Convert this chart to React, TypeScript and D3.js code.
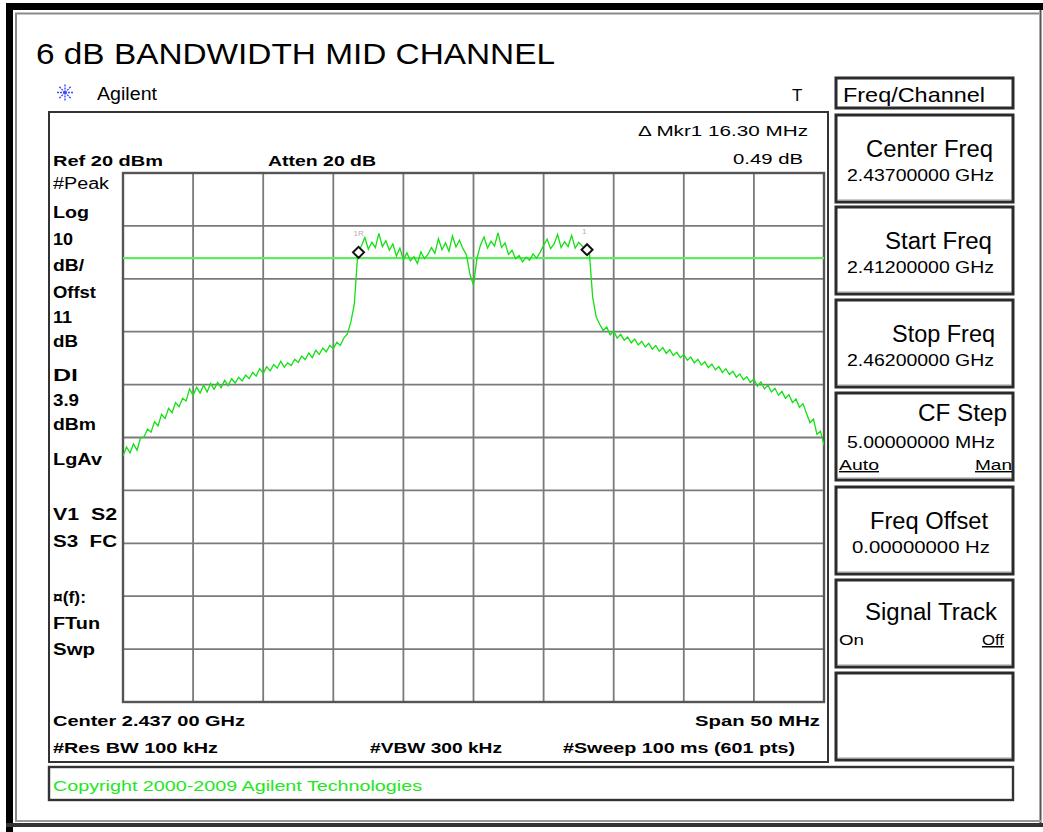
import * as d3 from 'd3';

// sweep: 2.412 GHz .. 2.462 GHz, values every 0.25 MHz
const START_MHZ = 2412;
const STOP_MHZ = 2462;
const STEP_MHZ = 0.25;

const freqDivisions = [2412, 2417, 2422, 2427, 2432, 2437, 2442, 2447, 2452, 2457, 2462];
const levelDivisions = [20, 10, 0, -10, -20, -30, -40, -50, -60, -70, -80];

const displayLineDbm = 3.9;

const traceDbm = [
  -33.5, -31.8, -32.9, -31.2, -32.4, -30.1, -29.9, -28.4, -29.0, -27.0,
  -27.8, -25.6, -26.4, -24.5, -25.3, -23.4, -24.2, -22.6, -23.1, -20.8,
  -22.0, -20.5, -21.6, -20.1, -21.4, -19.8, -20.9, -19.6, -20.6, -19.2,
  -20.2, -18.9, -19.7, -18.6, -19.3, -18.2, -18.9, -17.7, -18.4, -17.0,
  -17.9, -16.6, -17.4, -16.2, -16.9, -15.6, -16.7, -15.9, -16.4, -15.2,
  -15.8, -14.6, -15.3, -14.0, -14.9, -13.5, -14.3, -13.1, -13.8, -12.6,
  -13.2, -12.0, -12.6, -11.2, -10.4, -8.2, -4.8,
  5.0,
  6.2, 7.8, 5.6, 6.9, 5.9, 8.6, 6.1, 7.2, 5.4, 6.6,
  4.3, 5.8, 3.6, 4.9, 3.4, 4.2, 2.9, 5.1, 3.8, 4.6,
  5.9, 4.8, 7.6, 5.5, 6.8, 5.2, 8.1, 6.0, 7.3, 5.7,
  4.5, 0.8, -1.2, 3.9,
  6.4, 7.9, 5.8, 7.1, 6.2, 8.7, 5.9, 6.8,
  4.6, 5.4, 3.8, 4.4, 3.2, 4.1, 3.5, 4.7, 3.9, 5.0,
  6.3, 7.5, 5.7, 6.6, 8.4, 5.9, 7.0, 6.1, 8.2, 5.8, 6.9, 6.2, 5.6,
  5.5,
  -3.5, -7.2,
  -8.6, -9.8, -9.1, -10.6, -9.9, -11.2, -10.5, -11.6, -11.0, -12.1,
  -11.4, -12.5, -11.8, -12.9, -12.2, -13.3, -12.6, -13.7, -13.0, -14.1,
  -13.4, -14.5, -13.9, -14.9, -14.3, -15.4, -14.8, -15.9, -15.2, -16.3,
  -15.7, -16.8, -16.1, -17.2, -16.6, -17.7, -17.0, -18.1, -17.5, -18.6,
  -18.0, -19.1, -18.5, -19.6, -18.9, -20.3, -19.5, -20.8, -20.1, -21.4,
  -20.7, -22.0, -21.3, -22.6, -21.9, -23.4, -22.7, -24.3, -23.6, -25.4,
  -27.2, -26.5, -29.4, -28.8, -31.5,
];

const markerMhz = [2428.8, 2445.1];
const markerDbm = [5.0, 5.5];
const markerTags = ['1R', '1'];

const leftLabels = ['#Peak', 'Log', '10', 'dB/', 'Offst', '11', 'dB', 'Dl', '3.9', 'dBm', 'LgAv', 'V1  S2', 'S3  FC', '¤(f):', 'FTun', 'Swp'];
const leftBaselines = [189, 218, 245, 271, 298, 323, 347, 381, 406, 430, 465, 520, 547, 603, 629, 655];
const leftWidths = [56, 36, 20, 31, 43, 19, 25, 25, 26, 43, 49, 64, 64, 33, 47, 42];

const softKeys = [
  { title: 'Center Freq', value: '2.43700000 GHz' },
  { title: 'Start Freq', value: '2.41200000 GHz' },
  { title: 'Stop Freq', value: '2.46200000 GHz' },
  { title: 'CF Step', value: '5.00000000 MHz' },
  { title: 'Freq Offset', value: '0.00000000  Hz' },
  { title: 'Signal Track', value: '' },
  { title: '', value: '' },
];
const softKeyTops = [115, 207, 300, 393, 487, 580, 673];
const softKeyTitleRight = [993, 992, 995, 1007, 988, 997, 0];
const softKeyTitleWidth = [127, 107, 103, 89, 118, 132, 0];

const FONT = 'Liberation Sans, Arial, Helvetica, sans-serif';

function SoftKey({ top, title, value, index }: { top: number; title: string; value: string; index: number }) {
  const h = 87;
  const fit = { lengthAdjust: 'spacingAndGlyphs' as const };
  return (
    <g>
      <rect x={836} y={top} width={177} height={h} fill="#fff" stroke="#2b2b2b" strokeWidth={3} />
      <line x1={838} y1={top + h - 2} x2={1011} y2={top + h - 2} stroke="#999" strokeWidth={1} />
      {index === 3 && (
        <>
          <text x={softKeyTitleRight[index]} y={top + 28} textAnchor="end" fontSize={23} textLength={softKeyTitleWidth[index]} {...fit}>{title}</text>
          <text x={847} y={top + 55} fontSize={17} textLength={148} {...fit}>{value}</text>
          <text x={839} y={top + 77} fontSize={14} textLength={40} {...fit} textDecoration="underline">Auto</text>
          <text x={1012} y={top + 77} fontSize={14} textAnchor="end" textLength={37} {...fit} textDecoration="underline">Man</text>
        </>
      )}
      {index === 5 && (
        <>
          <text x={softKeyTitleRight[index]} y={top + 40} textAnchor="end" fontSize={23} textLength={softKeyTitleWidth[index]} {...fit}>{title}</text>
          <text x={839} y={top + 65} fontSize={15} textLength={25} {...fit}>On</text>
          <text x={1004} y={top + 65} textAnchor="end" fontSize={15} textLength={22} {...fit} textDecoration="underline">Off</text>
        </>
      )}
      {index !== 3 && index !== 5 && title && (
        <>
          <text x={softKeyTitleRight[index]} y={top + 42} textAnchor="end" fontSize={23} textLength={softKeyTitleWidth[index]} {...fit}>{title}</text>
          <text x={index === 4 ? 852 : 847} y={top + 66} fontSize={17} textLength={index === 4 ? 138 : 147} {...fit}>{value}</text>
        </>
      )}
    </g>
  );
}

export default function App() {
  const x = d3.scaleLinear().domain([START_MHZ, STOP_MHZ]).range([123, 824]);
  const y = d3.scaleLinear().domain([levelDivisions[levelDivisions.length - 1], levelDivisions[0]]).range([702, 173]);

  const line = d3.line<number>()
    .x((_, i) => x(START_MHZ + i * STEP_MHZ))
    .y(d => y(d));

  const [x0, x1] = x.range();
  const [y0, y1] = [y(levelDivisions[0]), y(levelDivisions[levelDivisions.length - 1])];

  const spark = d3.range(8).map(k => (k * Math.PI) / 4);

  return (
    <svg width={1043} height={832} style={{ position: 'absolute', left: 0, top: 0, background: '#fff' }} fontFamily={FONT}>
      <defs>
        <clipPath id="plot-clip">
          <rect x={x0} y={y0} width={x1 - x0} height={y1 - y0} />
        </clipPath>
      </defs>

      {/* outer window frame */}
      <rect x={6} y={3} width={7} height={829} fill="#000" />
      <rect x={6} y={3} width={1037} height={7} fill="#000" />
      <line x1={16} y1={13} x2={16} y2={821} stroke="#8a8a8a" strokeWidth={2} />
      <line x1={15} y1={13.5} x2={1039} y2={13.5} stroke="#8a8a8a" strokeWidth={2} />
      <line x1={1040.5} y1={10} x2={1040.5} y2={826} stroke="#555" strokeWidth={2} />
      <line x1={15} y1={821} x2={1041} y2={821} stroke="#999" strokeWidth={2} />
      <rect x={6} y={823} width={1037} height={4} fill="#333" />

      <text x={36} y={64} fontSize={30} textLength={519} lengthAdjust="spacingAndGlyphs">6 dB BANDWIDTH MID CHANNEL</text>

      {/* Agilent spark */}
      <g transform="translate(65,92.5)" stroke="#3b4cff" strokeWidth={1.4} strokeDasharray="2 1">
        {spark.map(a => (
          <line key={a} x1={0} y1={0} x2={9 * Math.cos(a)} y2={9 * Math.sin(a)} />
        ))}
      </g>
      <text x={97} y={100} fontSize={18} textLength={60} lengthAdjust="spacingAndGlyphs">Agilent</text>
      <text x={792} y={101} fontSize={17}>T</text>

      {/* screen box */}
      <rect x={49} y={112} width={779} height={650} fill="none" stroke="#333" strokeWidth={2} />

      <text x={53} y={166} fontSize={15} fontWeight="bold" textLength={110} lengthAdjust="spacingAndGlyphs">Ref 20 dBm</text>
      <text x={268} y={166} fontSize={15} fontWeight="bold" textLength={108} lengthAdjust="spacingAndGlyphs">Atten 20 dB</text>
      <text x={638} y={136} fontSize={15} textLength={170} lengthAdjust="spacingAndGlyphs">Δ Mkr1  16.30 MHz</text>
      <text x={803} y={164} fontSize={15} textAnchor="end" textLength={70} lengthAdjust="spacingAndGlyphs">0.49 dB</text>

      {leftLabels.map((t, i) => (
        <text key={t} x={53} y={leftBaselines[i]} fontSize={16} fontWeight={i === 0 ? 'normal' : 'bold'}
          textLength={leftWidths[i]} lengthAdjust="spacingAndGlyphs" xmlSpace="preserve">{t}</text>
      ))}

      {/* graticule */}
      <g stroke="#7a7a7a" strokeWidth={1.8}>
        {freqDivisions.map(f => (
          <line key={f} x1={x(f)} y1={y0} x2={x(f)} y2={y1} />
        ))}
        {levelDivisions.map(l => (
          <line key={l} x1={x0} y1={y(l)} x2={x1} y2={y(l)} />
        ))}
      </g>
      <rect x={x0} y={y0} width={x1 - x0} height={y1 - y0} fill="none" stroke="#555" strokeWidth={2.4} />

      {/* display line */}
      <line x1={x0} y1={y(displayLineDbm)} x2={x1} y2={y(displayLineDbm)} stroke="#5fea5f" strokeWidth={2.2} />

      {/* trace */}
      <path d={line(traceDbm) ?? ''} fill="none" stroke="#12e012" strokeWidth={1.3} clipPath="url(#plot-clip)" />

      {/* markers */}
      {markerMhz.map((m, i) => (
        <g key={m}>
          <text x={x(m) - 5} y={y(markerDbm[i]) - 16} fontSize={8} fill="#b0b0b0">{markerTags[i]}</text>
          <path
            d={`M${x(m)},${y(markerDbm[i]) - 5.5} L${x(m) + 5.5},${y(markerDbm[i])} L${x(m)},${y(markerDbm[i]) + 5.5} L${x(m) - 5.5},${y(markerDbm[i])} Z`}
            fill="#fff" stroke="#111" strokeWidth={2}
          />
        </g>
      ))}

      {/* bottom annotations */}
      <text x={53} y={726} fontSize={15} fontWeight="bold" textLength={192} lengthAdjust="spacingAndGlyphs">Center 2.437 00 GHz</text>
      <text x={820} y={726} fontSize={15} fontWeight="bold" textAnchor="end" textLength={125} lengthAdjust="spacingAndGlyphs">Span 50 MHz</text>
      <text x={53} y={753} fontSize={15} fontWeight="bold" textLength={165} lengthAdjust="spacingAndGlyphs">#Res BW 100 kHz</text>
      <text x={370} y={753} fontSize={15} fontWeight="bold" textLength={132} lengthAdjust="spacingAndGlyphs">#VBW 300 kHz</text>
      <text x={563} y={753} fontSize={15} fontWeight="bold" textLength={232} lengthAdjust="spacingAndGlyphs">#Sweep 100 ms (601 pts)</text>

      {/* copyright bar */}
      <rect x={49} y={767} width={964} height={33} fill="#fff" stroke="#333" strokeWidth={2.4} />
      <text x={53} y={791} fontSize={15} fill="#22e622" textLength={369} lengthAdjust="spacingAndGlyphs">Copyright 2000-2009 Agilent Technologies</text>

      {/* menu softkeys */}
      <rect x={836} y={78} width={177} height={30} fill="#fff" stroke="#2b2b2b" strokeWidth={3} />
      <text x={843} y={102} fontSize={21} textLength={142} lengthAdjust="spacingAndGlyphs">Freq/Channel</text>
      {softKeys.map((k, i) => (
        <SoftKey key={i} index={i} top={softKeyTops[i]} title={k.title} value={k.value} />
      ))}
    </svg>
  );
}
